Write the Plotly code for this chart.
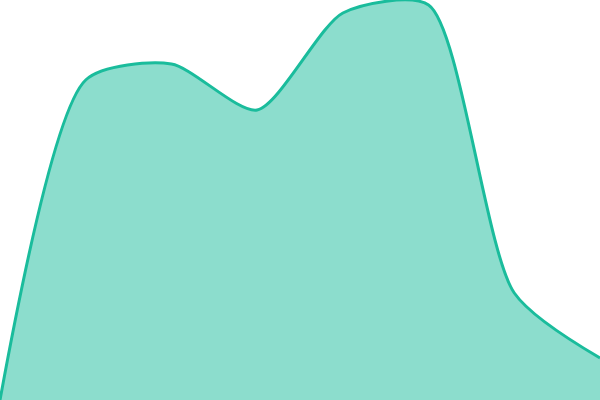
import plotly.graph_objects as go

# === Data ===
x_vals = [0, 1, 2, 3, 4, 5, 6, 7]
y_vals = [0, 80, 84, 72.5, 96.75, 98.75, 26.75, 10.5]

line_color = "#1abc9c"
fill_color = "rgba(26,188,156,0.5)"

fig = go.Figure(go.Scatter(
    x=x_vals,
    y=y_vals,
    mode="lines",
    line=dict(color=line_color, width=3, shape="spline", smoothing=0.7),
    fill="tozeroy",
    fillcolor=fill_color,
    hoverinfo="skip",
))

fig.update_layout(
    width=600,
    height=400,
    margin=dict(l=0, r=0, t=0, b=0),
    paper_bgcolor="white",
    plot_bgcolor="white",
    showlegend=False,
    xaxis=dict(visible=False, range=[0, 7]),
    yaxis=dict(visible=False, range=[0, 100]),
)

# drop the default page margin so the chart sits at the window corner
fig.write_html(
    "out.html",
    config={"displayModeBar": False, "staticPlot": True},
    post_script="document.body.style.margin='0';",
)
